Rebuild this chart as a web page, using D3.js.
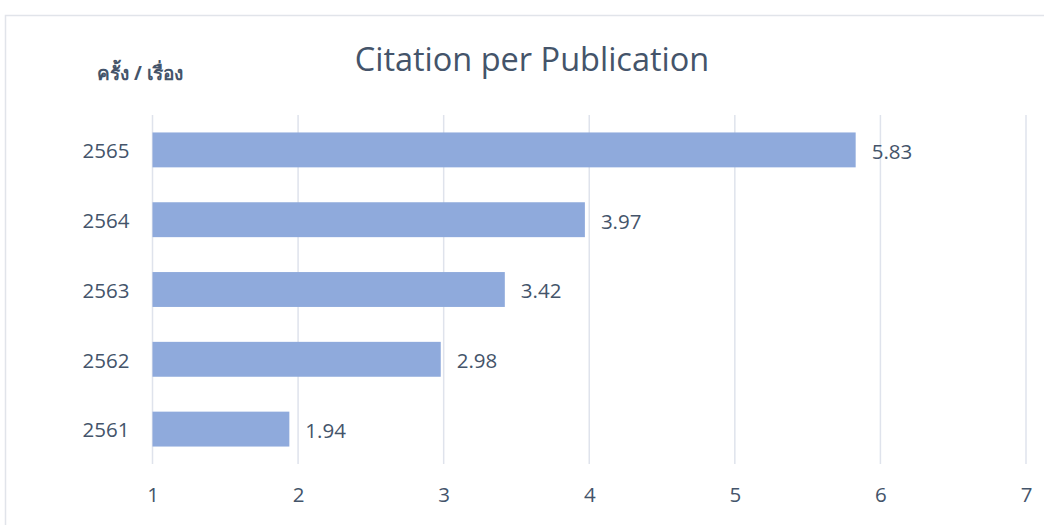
<!DOCTYPE html>
<html><head><meta charset="utf-8">
<script src="https://cdn.jsdelivr.net/npm/d3@7"></script>
<style>body{margin:0;background:#fff;}svg{display:block;font-family:"Open Sans","Noto Sans",sans-serif;}</style>
</head><body>
<svg id="c" width="1044" height="525"></svg>
<script>
const categories = ["2565","2564","2563","2562","2561"];
const values = [5.83, 3.97, 3.42, 2.98, 1.94];
const xTicks = [1,2,3,4,5,6,7];
const title = "Citation per Publication";
const yTitle = "ครั้ง / เรื่อง";

const FONT = '"Open Sans","Noto Sans",sans-serif';
const svg = d3.select("#c");
const txt = "#44546a";
svg.append("rect").attr("x",5.5).attr("y",15.5).attr("width",1060).attr("height",540)
  .attr("fill","#fff").attr("stroke","#e1e4ea").attr("stroke-width",1.5);

const x = d3.scaleLinear().domain([1,7]).range([152.5,1026]);
const y = d3.scaleBand().domain(categories).range([115,464]).paddingInner(0.5).paddingOuter(0.25);

svg.append("g").selectAll("line").data(xTicks).join("line")
  .attr("x1",d=>x(d)).attr("x2",d=>x(d)).attr("y1",115).attr("y2",464)
  .attr("stroke","#dfe3ec").attr("stroke-width",1.5);

svg.append("g").selectAll("rect").data(values).join("rect")
  .attr("x",x(1)).attr("y",(d,i)=>y(categories[i]))
  .attr("width",d=>x(d)-x(1)).attr("height",y.bandwidth())
  .attr("fill","#8faadc");

svg.append("g").selectAll("text").data(values).join("text")
  .attr("x",d=>x(d)+16).attr("y",(d,i)=>y(categories[i])+y.bandwidth()/2)
  .attr("dy","0.43em").attr("fill",txt).attr("font-size",20.5)
  .text(d=>d.toFixed(2));

const ax = d3.axisBottom(x).tickValues(xTicks).tickSize(0).tickPadding(23).tickFormat(d3.format("d"));
const gx = svg.append("g").attr("transform","translate(0,464)").call(ax)
  .attr("font-family",FONT).attr("font-size",20.5);
gx.select(".domain").remove();
gx.selectAll("text").attr("fill",txt);

const ay = d3.axisLeft(y).tickSize(0).tickPadding(23);
const gy = svg.append("g").attr("transform","translate(152.5,0)").call(ay)
  .attr("font-family",FONT).attr("font-size",20.5);
gy.select(".domain").remove();
gy.selectAll("text").attr("fill",txt).attr("dy","0.4em");

svg.append("text").attr("x",532).attr("y",71).attr("text-anchor","middle")
  .attr("fill",txt).attr("font-size",32.5).text(title);
svg.append("text").attr("x",97).attr("y",80).attr("fill",txt)
  .attr("font-size",19).attr("font-weight","bold").text(yTitle);
</script>
</body></html>
